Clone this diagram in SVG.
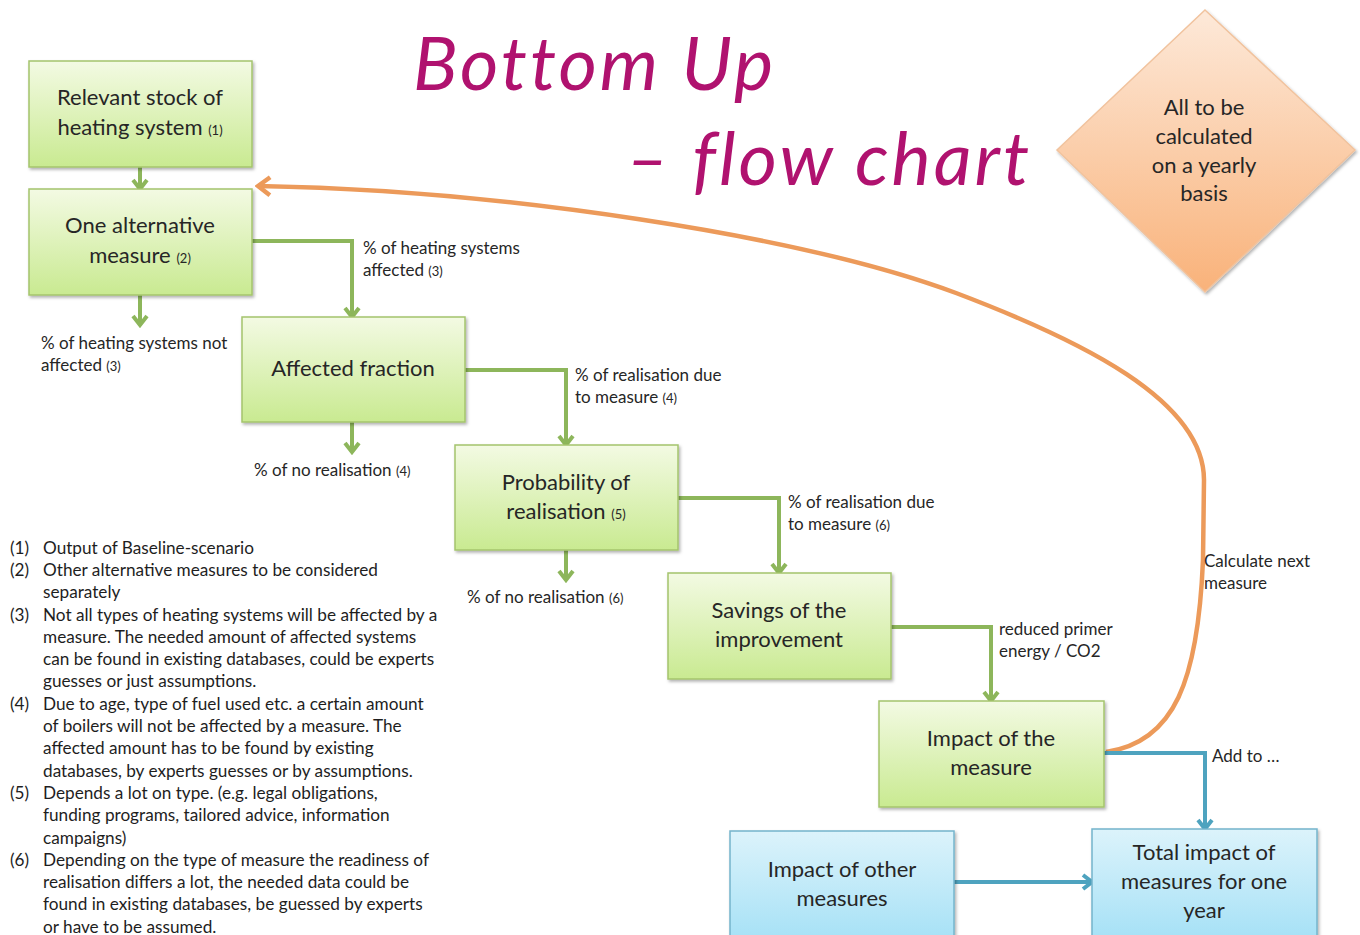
<svg xmlns="http://www.w3.org/2000/svg" width="1360" height="935" viewBox="0 0 1360 935">
<style>
.bt{font-family:Lato,"Open Sans","Liberation Sans",sans-serif;font-size:22px;fill:#262626;text-anchor:middle}
.sm{font-size:13px}
.lb{font-family:Lato,"Liberation Sans",sans-serif;font-size:17px;fill:#262626}
.fn{font-family:Lato,"Liberation Sans",sans-serif;font-size:17.2px;fill:#1e1e1e}
.title{font-family:Lato,"Open Sans",sans-serif;font-style:italic;font-size:74px;letter-spacing:3px;fill:#b0126f}
.gb{fill:url(#gGreen);stroke:#a4c46c;stroke-width:1.5;filter:url(#sh)}
.bb{fill:url(#gBlue);stroke:#74b4cc;stroke-width:1.5;filter:url(#sh)}
.gc{fill:none;stroke:#8db65b;stroke-width:4}
.bc{fill:none;stroke:#4ea3bf;stroke-width:4}
.oc{fill:none;stroke:#ec9a5a;stroke-width:4.5}
</style>
<defs>
<linearGradient id="gGreen" x1="0" y1="0" x2="0" y2="1"><stop offset="0" stop-color="#f3fae3"/><stop offset="1" stop-color="#c9ea91"/></linearGradient>
<linearGradient id="gBlue" x1="0" y1="0" x2="0" y2="1"><stop offset="0" stop-color="#dcf3fb"/><stop offset="1" stop-color="#a6e1f6"/></linearGradient>
<linearGradient id="gOr" x1="0" y1="0" x2="0" y2="1"><stop offset="0" stop-color="#fde9d9"/><stop offset="1" stop-color="#f9b27a"/></linearGradient>
<filter id="sh" x="-10%" y="-10%" width="125%" height="130%"><feDropShadow dx="1.5" dy="2" stdDeviation="1.8" flood-color="#000" flood-opacity="0.3"/></filter>
<marker id="ag" markerUnits="userSpaceOnUse" markerWidth="16" markerHeight="18" viewBox="0 0 16 18" refX="13" refY="9" orient="auto"><path d="M4,2 L13,9 L4,16" fill="none" stroke="#8db65b" stroke-width="4"/></marker>
<marker id="ab" markerUnits="userSpaceOnUse" markerWidth="16" markerHeight="18" viewBox="0 0 16 18" refX="13" refY="9" orient="auto"><path d="M4,2 L13,9 L4,16" fill="none" stroke="#4ea3bf" stroke-width="4"/></marker>
<marker id="ao" markerUnits="userSpaceOnUse" markerWidth="20" markerHeight="22" viewBox="0 0 20 22" refX="17" refY="11" orient="auto"><path d="M5,2 L17,11 L5,20" fill="none" stroke="#ec9a5a" stroke-width="4.5"/></marker>
</defs>
<rect width="1360" height="935" fill="#ffffff"/>

<g id="title">
<text class="title" x="413" y="90">Bottom Up</text>
<text class="title" x="626" y="185">– flow chart</text>
</g>

<g id="connectors">
<path class="oc" d="M1106,752 C1175,742 1198,680 1203,560 L1204,480 C1204,400 1080,340 956,293 C800,235 500,190 258,186" marker-end="url(#ao)"/>
<path class="gc" d="M140,167 L140,189" marker-end="url(#ag)"/>
<path class="gc" d="M252,241 L352,241 L352,317" marker-end="url(#ag)"/>
<path class="gc" d="M140,295 L140,325" marker-end="url(#ag)"/>
<path class="gc" d="M465,370 L566,370 L566,445" marker-end="url(#ag)"/>
<path class="gc" d="M352,422 L352,452" marker-end="url(#ag)"/>
<path class="gc" d="M678,498 L779,498 L779,573" marker-end="url(#ag)"/>
<path class="gc" d="M566,550 L566,580" marker-end="url(#ag)"/>
<path class="gc" d="M891,627 L991,627 L991,701" marker-end="url(#ag)"/>
<path class="bc" d="M1104,753 L1205,753 L1205,829" marker-end="url(#ab)"/>
<path class="bc" d="M954,882 L1092,882" marker-end="url(#ab)"/>
<g id="connector-labels">
<text class="lb" x="363" y="254">% of heating systems</text>
<text class="lb" x="363" y="276">affected <tspan class="sm">(3)</tspan></text>
<text class="lb" x="41" y="349">% of heating systems not</text>
<text class="lb" x="41" y="371">affected <tspan class="sm">(3)</tspan></text>
<text class="lb" x="575" y="381">% of realisation due</text>
<text class="lb" x="575" y="403">to measure <tspan class="sm">(4)</tspan></text>
<text class="lb" x="254" y="476">% of no realisation <tspan class="sm">(4)</tspan></text>
<text class="lb" x="788" y="508">% of realisation due</text>
<text class="lb" x="788" y="530">to measure <tspan class="sm">(6)</tspan></text>
<text class="lb" x="467" y="603">% of no realisation <tspan class="sm">(6)</tspan></text>
<text class="lb" x="999" y="635">reduced primer</text>
<text class="lb" x="999" y="657">energy / CO2</text>
<text class="lb" x="1212" y="762">Add to …</text>
<text class="lb" x="1204" y="567">Calculate next</text>
<text class="lb" x="1204" y="589">measure</text>
</g>
</g>

<g id="n1"><rect class="gb" x="29" y="61" width="223" height="106"/>
<text class="bt" x="140" y="105">Relevant stock of</text>
<text class="bt" x="140" y="135">heating system <tspan class="sm">(1)</tspan></text></g>

<g id="n2"><rect class="gb" x="29" y="189" width="223" height="106"/>
<text class="bt" x="140" y="233">One alternative</text>
<text class="bt" x="140" y="263">measure <tspan class="sm">(2)</tspan></text></g>

<g id="n3"><rect class="gb" x="242" y="317" width="223" height="105"/>
<text class="bt" x="353" y="376">Affected fraction</text></g>

<g id="n4"><rect class="gb" x="455" y="445" width="223" height="105"/>
<text class="bt" x="566" y="490">Probability of</text>
<text class="bt" x="566" y="519">realisation <tspan class="sm">(5)</tspan></text></g>

<g id="n5"><rect class="gb" x="668" y="573" width="223" height="106"/>
<text class="bt" x="779" y="618">Savings of the</text>
<text class="bt" x="779" y="647">improvement</text></g>

<g id="n6"><rect class="gb" x="879" y="701" width="225" height="106"/>
<text class="bt" x="991" y="746">Impact of the</text>
<text class="bt" x="991" y="775">measure</text></g>

<g id="n7"><rect class="bb" x="730" y="831" width="224" height="110"/>
<text class="bt" x="842" y="877">Impact of other</text>
<text class="bt" x="842" y="906">measures</text></g>

<g id="n8"><rect class="bb" x="1092" y="829" width="225" height="110"/>
<text class="bt" x="1204" y="860">Total impact of</text>
<text class="bt" x="1204" y="889">measures for one</text>
<text class="bt" x="1204" y="918">year</text></g>

<g id="diamond"><path d="M1205,10 L1355,150 L1205,292 L1057,150 Z" fill="url(#gOr)" stroke="#f1c39e" stroke-width="1.5" filter="url(#sh)"/>
<text class="bt" x="1204" y="115">All to be</text>
<text class="bt" x="1204" y="144">calculated</text>
<text class="bt" x="1204" y="173">on a yearly</text>
<text class="bt" x="1204" y="201">basis</text></g>

<g id="footnotes">
<text class="fn" x="10" y="554">(1)</text><text class="fn" x="43" y="554">Output of Baseline-scenario</text>
<text class="fn" x="10" y="576">(2)</text><text class="fn" x="43" y="576">Other alternative measures to be considered</text>
<text class="fn" x="43" y="598">separately</text>
<text class="fn" x="10" y="621">(3)</text><text class="fn" x="43" y="621">Not all types of heating systems will be affected by a</text>
<text class="fn" x="43" y="643">measure. The needed amount of affected systems</text>
<text class="fn" x="43" y="665">can be found in existing databases, could be experts</text>
<text class="fn" x="43" y="687">guesses or just assumptions.</text>
<text class="fn" x="10" y="710">(4)</text><text class="fn" x="43" y="710">Due to age, type of fuel used etc. a certain amount</text>
<text class="fn" x="43" y="732">of boilers will not be affected by a measure. The</text>
<text class="fn" x="43" y="754">affected amount has to be found by existing</text>
<text class="fn" x="43" y="777">databases, by experts guesses or by assumptions.</text>
<text class="fn" x="10" y="799">(5)</text><text class="fn" x="43" y="799">Depends a lot on type. (e.g. legal obligations,</text>
<text class="fn" x="43" y="821">funding programs, tailored advice, information</text>
<text class="fn" x="43" y="844">campaigns)</text>
<text class="fn" x="10" y="866">(6)</text><text class="fn" x="43" y="866">Depending on the type of measure the readiness of</text>
<text class="fn" x="43" y="888">realisation differs a lot, the needed data could be</text>
<text class="fn" x="43" y="910">found in existing databases, be guessed by experts</text>
<text class="fn" x="43" y="933">or have to be assumed.</text>
</g>
</svg>
